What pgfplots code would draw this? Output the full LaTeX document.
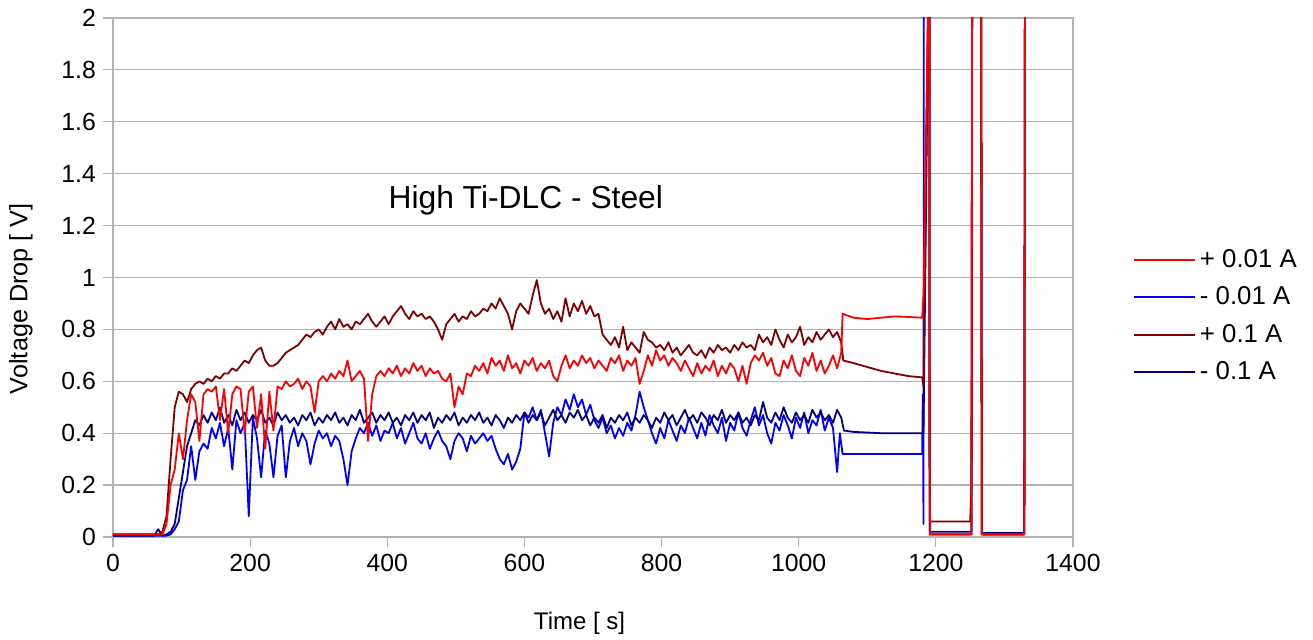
\documentclass[border=0pt]{standalone}
\usepackage{pgfplots}
\pgfplotsset{compat=1.18}
\usepackage{fontspec}
\setmainfont{Liberation Sans}
\definecolor{cred}{RGB}{255,0,0}
\definecolor{cblue}{RGB}{0,0,255}
\definecolor{cdred}{RGB}{128,0,0}
\definecolor{cnavy}{RGB}{0,0,128}
\definecolor{cgrid}{RGB}{179,179,179}
\begin{document}
\begin{tikzpicture}
\begin{axis}[
  at={(0,0)}, anchor=south west,
  scale only axis, width=480pt, height=259.5pt,
  xmin=0, xmax=1400, ymin=0, ymax=2,
  xtick={0,200,400,600,800,1000,1200,1400},
  ytick={0,0.2,0.4,0.6,0.8,1,1.2,1.4,1.6,1.8,2},
  axis line style={cgrid, line width=0.6pt},
  ymajorgrids, major grid style={cgrid, line width=0.6pt},
  tick align=outside, tick pos=left,
  major tick length=5pt, tick style={cgrid, line width=0.6pt},
  ticklabel style={font=\fontsize{12.4}{14}\selectfont},
  /pgf/number format/assume math mode=true,
  /pgf/number format/1000 sep={},
  xlabel={Time [ s]}, ylabel={Voltage Drop [ V]},
  xlabel style={font=\fontsize{12}{14}\selectfont, at={(axis description cs:0.486,-0.179)}, anchor=base},
  ylabel style={font=\fontsize{12.6}{14}\selectfont, at={(axis description cs:-0.096,0.459)}, anchor=center},
  legend cell align=left,
  legend image code/.code={\draw[#1] (0pt,0pt) -- (30.5pt,0pt);},
  legend style={draw=none, fill=none, at={(axis description cs:1.056,0.426)}, anchor=west,
    font=\fontsize{12.9}{15}\selectfont, row sep=4.2pt},
  every axis plot/.append style={line width=0.9pt, line join=round},
]
\addlegendimage{cred, line width=0.9pt}
\addlegendentry{+ 0.01 A}
\addlegendimage{cblue, line width=0.9pt}
\addlegendentry{- 0.01 A}
\addlegendimage{cdred, line width=0.9pt}
\addlegendentry{+ 0.1 A}
\addlegendimage{cnavy, line width=0.9pt}
\addlegendentry{- 0.1 A}

% - 0.01 A
\addplot[cblue, forget plot] coordinates {
(0,0.005)(78,0.005)(84,0.01)(90,0.03)(96,0.06)(102,0.18)(108,0.22)(114,0.35)(120,0.22)(126,0.33)(132,0.36)(138,0.34)(144,0.42)(150,0.38)(156,0.44)(162,0.35)(168,0.42)(174,0.26)(180,0.45)(186,0.4)(192,0.44)(198,0.08)(204,0.46)(210,0.38)(216,0.23)(222,0.41)(228,0.36)(234,0.23)(240,0.39)(246,0.43)(252,0.23)(258,0.37)(264,0.42)(270,0.35)(276,0.4)(282,0.37)(288,0.28)(294,0.36)(300,0.41)(306,0.38)(312,0.4)(318,0.35)(324,0.39)(330,0.37)(336,0.3)(342,0.2)(348,0.33)(354,0.38)(360,0.42)(366,0.4)(372,0.44)(378,0.39)(384,0.43)(390,0.37)(396,0.41)(402,0.4)(408,0.44)(414,0.38)(420,0.42)(426,0.36)(432,0.4)(438,0.44)(444,0.38)(450,0.36)(456,0.4)(462,0.34)(468,0.38)(474,0.41)(480,0.37)(486,0.35)(492,0.3)(498,0.37)(504,0.4)(510,0.38)(516,0.33)(522,0.39)(528,0.36)(534,0.38)(540,0.4)(546,0.37)(552,0.39)(558,0.34)(564,0.3)(570,0.28)(576,0.32)(582,0.26)(588,0.29)(594,0.34)(600,0.48)(606,0.46)(612,0.5)(618,0.45)(624,0.49)(630,0.4)(636,0.31)(642,0.44)(648,0.5)(654,0.47)(660,0.53)(666,0.49)(672,0.55)(678,0.5)(684,0.53)(690,0.47)(696,0.51)(702,0.45)(708,0.42)(714,0.46)(720,0.4)(726,0.43)(732,0.38)(738,0.42)(744,0.39)(750,0.44)(756,0.41)(762,0.47)(768,0.56)(774,0.5)(780,0.45)(786,0.4)(792,0.36)(798,0.42)(804,0.38)(810,0.45)(816,0.41)(822,0.37)(828,0.43)(834,0.4)(840,0.46)(846,0.42)(852,0.38)(858,0.44)(864,0.39)(870,0.47)(876,0.43)(882,0.4)(888,0.46)(894,0.37)(900,0.44)(906,0.41)(912,0.48)(918,0.42)(924,0.39)(930,0.45)(936,0.5)(942,0.43)(948,0.47)(954,0.4)(960,0.36)(966,0.44)(972,0.41)(978,0.47)(984,0.43)(990,0.38)(996,0.46)(1002,0.42)(1008,0.48)(1014,0.4)(1020,0.45)(1026,0.43)(1032,0.49)(1038,0.41)(1044,0.46)(1050,0.42)(1056,0.25)(1060,0.4)(1064,0.32)(1120,0.32)(1180,0.32)(1181,0.55)(1182,0.05)(1182.5,2.3)(1190.5,2.3)(1191,0.01)(1252,0.01)(1253,2.3)(1266,2.3)(1267,0.01)(1329,0.01)(1330,2.3)(1333,2.3)
};
% - 0.1 A
\addplot[cnavy, forget plot] coordinates {
(0,0.005)(60,0.005)(66,0.03)(72,0.005)(78,0.01)(84,0.02)(90,0.05)(96,0.15)(102,0.25)(108,0.35)(114,0.4)(120,0.45)(126,0.43)(132,0.47)(138,0.44)(144,0.48)(150,0.45)(156,0.5)(162,0.44)(168,0.47)(174,0.43)(180,0.49)(186,0.45)(192,0.48)(198,0.44)(204,0.47)(210,0.45)(216,0.49)(222,0.44)(228,0.46)(234,0.43)(240,0.48)(246,0.45)(252,0.47)(258,0.44)(264,0.46)(270,0.43)(276,0.47)(282,0.45)(288,0.48)(294,0.43)(300,0.46)(306,0.44)(312,0.47)(318,0.45)(324,0.48)(330,0.44)(336,0.46)(342,0.43)(348,0.47)(354,0.45)(360,0.49)(366,0.44)(372,0.46)(378,0.48)(384,0.44)(390,0.47)(396,0.45)(402,0.48)(408,0.44)(414,0.46)(420,0.43)(426,0.47)(432,0.45)(438,0.48)(444,0.44)(450,0.47)(456,0.45)(462,0.48)(468,0.42)(474,0.46)(480,0.44)(486,0.47)(492,0.45)(498,0.48)(504,0.43)(510,0.46)(516,0.44)(522,0.47)(528,0.45)(534,0.48)(540,0.44)(546,0.46)(552,0.43)(558,0.47)(564,0.45)(570,0.42)(576,0.46)(582,0.44)(588,0.47)(594,0.45)(600,0.48)(606,0.44)(612,0.47)(618,0.45)(624,0.48)(630,0.43)(636,0.46)(642,0.49)(648,0.45)(654,0.47)(660,0.44)(666,0.48)(672,0.46)(678,0.49)(684,0.45)(690,0.47)(696,0.43)(702,0.46)(708,0.44)(714,0.47)(720,0.42)(726,0.46)(732,0.44)(738,0.47)(744,0.45)(750,0.48)(756,0.43)(762,0.46)(768,0.44)(774,0.47)(780,0.45)(786,0.42)(792,0.46)(798,0.44)(804,0.48)(810,0.45)(816,0.47)(822,0.43)(828,0.46)(834,0.49)(840,0.45)(846,0.47)(852,0.44)(858,0.48)(864,0.46)(870,0.43)(876,0.47)(882,0.45)(888,0.49)(894,0.44)(900,0.47)(906,0.45)(912,0.48)(918,0.44)(924,0.46)(930,0.43)(936,0.47)(942,0.45)(948,0.52)(954,0.46)(960,0.44)(966,0.48)(972,0.45)(978,0.5)(984,0.46)(990,0.44)(996,0.48)(1002,0.45)(1008,0.47)(1014,0.44)(1020,0.49)(1026,0.46)(1032,0.48)(1038,0.45)(1044,0.47)(1050,0.44)(1056,0.49)(1062,0.46)(1066,0.41)(1080,0.405)(1120,0.4)(1180,0.4)(1182,0.4)(1190,2.3)(1190.5,2.3)(1191,0.02)(1252,0.02)(1253,2.3)(1266,2.3)(1267,0.015)(1329,0.015)(1330,2.3)(1333,2.3)
};
% + 0.1 A
\addplot[cdred, forget plot] coordinates {
(0,0.01)(60,0.01)(66,0.01)(72,0.02)(78,0.08)(84,0.3)(90,0.5)(96,0.56)(102,0.55)(108,0.52)(114,0.57)(120,0.59)(126,0.6)(132,0.59)(138,0.61)(144,0.6)(150,0.62)(156,0.61)(162,0.63)(168,0.63)(174,0.65)(180,0.64)(186,0.66)(192,0.68)(198,0.67)(204,0.7)(210,0.72)(216,0.73)(222,0.68)(228,0.66)(234,0.66)(240,0.67)(246,0.69)(252,0.71)(258,0.72)(264,0.73)(270,0.74)(276,0.76)(282,0.78)(288,0.77)(294,0.79)(300,0.8)(306,0.78)(312,0.81)(318,0.83)(324,0.8)(330,0.84)(336,0.81)(342,0.82)(348,0.8)(354,0.83)(360,0.82)(366,0.84)(372,0.86)(378,0.83)(384,0.81)(390,0.83)(396,0.85)(402,0.82)(408,0.85)(414,0.87)(420,0.89)(426,0.86)(432,0.84)(438,0.87)(444,0.85)(450,0.86)(456,0.84)(462,0.85)(468,0.83)(474,0.8)(480,0.76)(486,0.82)(492,0.84)(498,0.86)(504,0.83)(510,0.85)(516,0.84)(522,0.87)(528,0.85)(534,0.86)(540,0.88)(546,0.87)(552,0.9)(558,0.88)(564,0.92)(570,0.89)(576,0.86)(582,0.8)(588,0.87)(594,0.9)(600,0.88)(606,0.86)(612,0.93)(618,0.99)(624,0.9)(630,0.86)(636,0.88)(642,0.84)(648,0.87)(654,0.83)(660,0.92)(666,0.85)(672,0.9)(678,0.87)(684,0.91)(690,0.86)(696,0.89)(702,0.85)(708,0.86)(714,0.78)(720,0.76)(726,0.74)(732,0.77)(738,0.73)(744,0.81)(750,0.72)(756,0.75)(762,0.73)(768,0.71)(774,0.79)(780,0.76)(786,0.75)(792,0.73)(798,0.74)(804,0.72)(810,0.75)(816,0.71)(822,0.73)(828,0.7)(834,0.72)(840,0.74)(846,0.71)(852,0.7)(858,0.72)(864,0.69)(870,0.73)(876,0.71)(882,0.74)(888,0.72)(894,0.73)(900,0.71)(906,0.74)(912,0.72)(918,0.75)(924,0.73)(930,0.74)(936,0.72)(942,0.78)(948,0.75)(954,0.77)(960,0.74)(966,0.8)(972,0.76)(978,0.73)(984,0.78)(990,0.75)(996,0.77)(1002,0.81)(1008,0.74)(1014,0.77)(1020,0.75)(1026,0.79)(1032,0.76)(1038,0.78)(1044,0.8)(1050,0.77)(1056,0.79)(1062,0.75)(1065,0.68)(1080,0.67)(1100,0.655)(1120,0.64)(1140,0.63)(1160,0.62)(1180,0.615)(1182,0.58)(1190,2.3)(1190.5,2.3)(1191,0.06)(1250,0.06)(1252,0.2)(1253,2.3)(1266,2.3)(1267,0.01)(1329,0.01)(1330,2.3)(1333,2.3)
};
% + 0.01 A
\addplot[cred, forget plot] coordinates {
(0,0.01)(72,0.01)(78,0.05)(84,0.2)(90,0.26)(96,0.4)(102,0.3)(108,0.45)(114,0.55)(120,0.52)(126,0.37)(132,0.55)(138,0.57)(144,0.56)(150,0.58)(156,0.45)(162,0.57)(168,0.4)(174,0.55)(180,0.58)(186,0.57)(192,0.4)(198,0.56)(204,0.58)(210,0.42)(216,0.55)(222,0.34)(228,0.56)(234,0.41)(240,0.58)(246,0.57)(252,0.6)(258,0.58)(264,0.59)(270,0.61)(276,0.57)(282,0.6)(288,0.58)(294,0.48)(300,0.6)(306,0.62)(312,0.6)(318,0.63)(324,0.61)(330,0.64)(336,0.62)(342,0.68)(348,0.6)(354,0.62)(360,0.64)(366,0.61)(372,0.37)(378,0.55)(384,0.62)(390,0.64)(396,0.62)(402,0.65)(408,0.63)(414,0.66)(420,0.62)(426,0.65)(432,0.63)(438,0.67)(444,0.64)(450,0.66)(456,0.62)(462,0.65)(468,0.63)(474,0.64)(480,0.61)(486,0.6)(492,0.63)(498,0.5)(504,0.58)(510,0.55)(516,0.63)(522,0.62)(528,0.66)(534,0.64)(540,0.67)(546,0.63)(552,0.69)(558,0.66)(564,0.68)(570,0.64)(576,0.7)(582,0.65)(588,0.67)(594,0.63)(600,0.68)(606,0.66)(612,0.69)(618,0.64)(624,0.67)(630,0.65)(636,0.68)(642,0.62)(648,0.6)(654,0.66)(660,0.7)(666,0.65)(672,0.68)(678,0.66)(684,0.7)(690,0.67)(696,0.69)(702,0.65)(708,0.68)(714,0.66)(720,0.64)(726,0.69)(732,0.67)(738,0.7)(744,0.64)(750,0.68)(756,0.66)(762,0.69)(768,0.59)(774,0.64)(780,0.7)(786,0.66)(792,0.72)(798,0.68)(804,0.7)(810,0.66)(816,0.69)(822,0.67)(828,0.64)(834,0.68)(840,0.65)(846,0.62)(852,0.67)(858,0.63)(864,0.66)(870,0.64)(876,0.68)(882,0.62)(888,0.66)(894,0.63)(900,0.67)(906,0.65)(912,0.6)(918,0.66)(924,0.59)(930,0.67)(936,0.7)(942,0.68)(948,0.71)(954,0.66)(960,0.69)(966,0.63)(972,0.62)(978,0.68)(984,0.65)(990,0.7)(996,0.64)(1002,0.62)(1008,0.69)(1014,0.66)(1020,0.71)(1026,0.64)(1032,0.68)(1038,0.63)(1044,0.66)(1050,0.7)(1056,0.65)(1062,0.71)(1064,0.86)(1080,0.845)(1100,0.84)(1120,0.845)(1140,0.85)(1160,0.848)(1180,0.845)(1182,0.93)(1190,2.3)(1190.5,2.3)(1191,0.18)(1192,0.01)(1252,0.01)(1253,2.3)(1266,2.3)(1267,0.01)(1329,0.01)(1330,2.3)(1333,2.3)
};
\node[font=\fontsize{15.9}{19}\selectfont, anchor=base] at (axis cs:602,1.267) {High Ti-DLC - Steel};
\end{axis}
\pgfresetboundingbox
\path (-56.5pt,-51.5pt) rectangle (600pt,268.5pt);
\end{tikzpicture}
\end{document}
